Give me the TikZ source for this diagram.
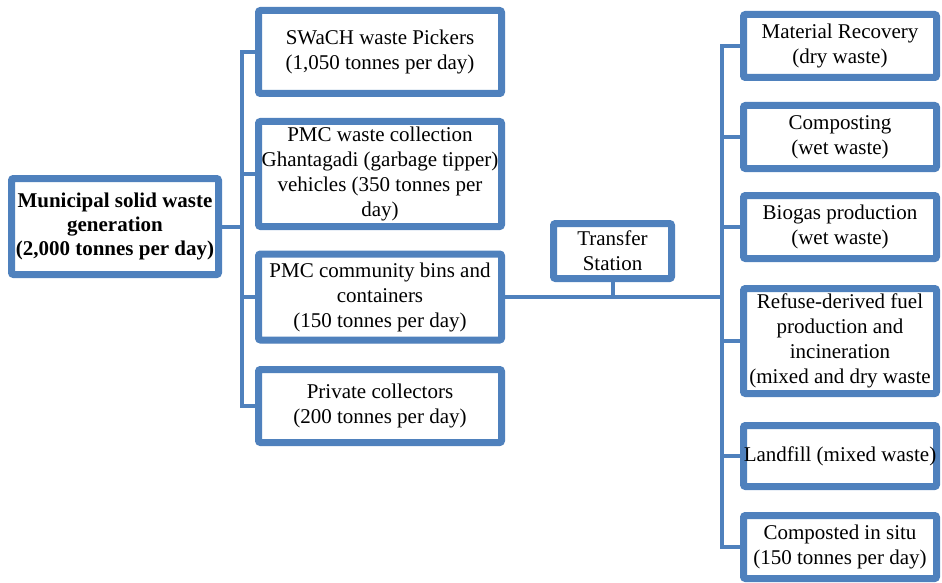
\documentclass[tikz,border=0pt]{standalone}
\usepackage{fontspec}
\setmainfont{Liberation Serif}
\usetikzlibrary{shadows}
\definecolor{boxblue}{HTML}{4F81BD}
\begin{document}
\begin{tikzpicture}[
        x=1pt, y=-1pt,
        box/.style={draw=boxblue, line width=7pt, fill=white, rounded corners=2pt,
            inner sep=0pt, align=center, font=\fontsize{21}{25}\selectfont,
            drop shadow={shadow xshift=1.5pt, shadow yshift=-3pt, fill=black!60, opacity=.6}},
        leftn/.style={box, minimum width=243pt},
        rightn/.style={box, minimum width=193pt, minimum height=63pt},
        link/.style={draw=boxblue, line width=4pt},
    ]
    \useasboundingbox (0,0) rectangle (942,583);
    % source
    \node[box, minimum width=207pt, minimum height=96pt, font=\fontsize{21}{24}\selectfont\bfseries]
        (root) at (115,226.5) {Municipal solid waste\\generation\\(2,000 tonnes per day)};
    % collection
    \node[leftn, minimum height=83pt] (swach) at (380,52) {SWaCH waste Pickers\\(1,050 tonnes per day)};
    \node[leftn, minimum height=105pt] (ghanta) at (380,174) {PMC waste collection\\Ghantagadi (garbage tipper)\\vehicles (350 tonnes per\\day)};
    \node[leftn, minimum height=86pt] (bins) at (380,297) {PMC community bins and\\containers\\(150 tonnes per day)};
    \node[leftn, minimum height=73pt] (private) at (380,406) {Private collectors\\(200 tonnes per day)};
    % transfer
    \node[box, minimum width=118pt, minimum height=55pt] (transfer) at (612.5,251) {Transfer\\Station};
    \coordinate (rt) at (722,297);
    % treatment
    \node[rightn] (matrec) at (840,46) {Material Recovery\\(dry waste)};
    \node[rightn] (compost) at (840,137) {Composting\\(wet waste)};
    \node[rightn] (biogas) at (840,227) {Biogas production\\(wet waste)};
    \node[rightn, minimum height=105pt] (refuse) at (840,341) {Refuse-derived fuel\\production and\\incineration\\(mixed and dry waste};
    \node[rightn, minimum height=61pt] (landfill) at (840,456) {Landfill (mixed waste)};
    \node[rightn] (situ) at (840,547) {Composted in situ\\(150 tonnes per day)};

    \draw[link] (root.east) -- ++(20,0);
    \draw[link] (swach.west) -- ++(-13,0) |- (private.west);
    \draw[link] (ghanta.west) -- ++(-13,0);
    \draw[link] (bins.west) -- ++(-13,0);
    \draw[link] (bins.east) -- (rt);
    \draw[link] (transfer.south) -- (transfer.south |- rt);
    \draw[link] (matrec.west) -- ++(-18,0) |- (situ.west);
    \draw[link] (compost.west) -- ++(-18,0);
    \draw[link] (biogas.west) -- ++(-18,0);
    \draw[link] (refuse.west) -- ++(-18,0);
    \draw[link] (landfill.west) -- ++(-18,0);
\end{tikzpicture}
\end{document}
